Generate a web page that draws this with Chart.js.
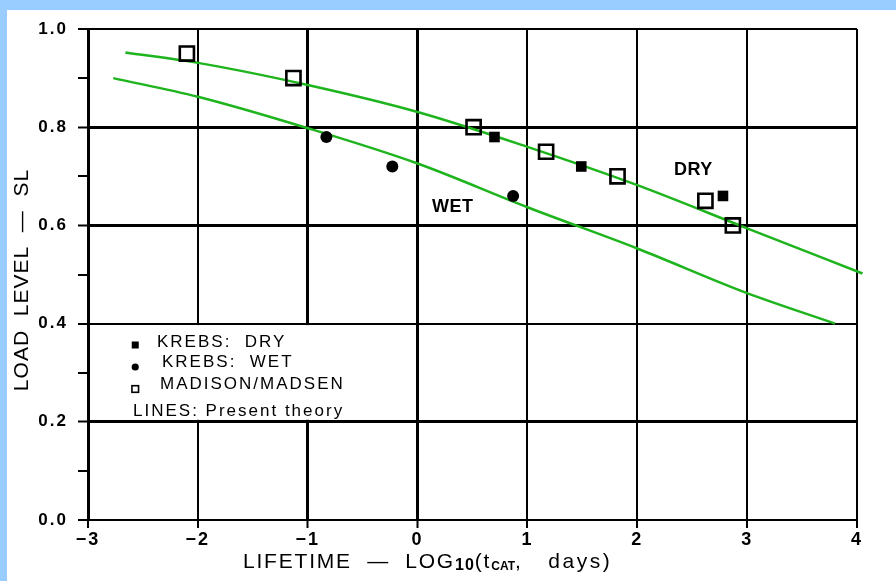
<!DOCTYPE html>
<html><head><meta charset="utf-8">
<script src="https://cdn.jsdelivr.net/npm/chart.js@4.4.1/dist/chart.umd.min.js"></script>
<style>html,body{margin:0;padding:0;background:#fff;overflow:hidden}</style>
</head><body>
<canvas id="c" width="896" height="581" style="display:block"></canvas>
<script>
const FONT = '"Liberation Sans", Arial, Helvetica, sans-serif';
const xTickValues = [-3, -2, -1, 0, 1, 2, 3, 4];
const xTickLabels = ['−3', '−2', '−1', '0', '1', '2', '3', '4'];
const yTickValues = [0, 0.1, 0.2, 0.3, 0.4, 0.5, 0.6, 0.7, 0.8, 0.9, 1.0];
const yTickLabels = ['0.0', '', '0.2', '', '0.4', '', '0.6', '', '0.8', '', '1.0'];

const madisonX = [-2.10, -1.13, 0.51, 1.17, 1.82, 2.62, 2.87];
const madisonY = [0.95, 0.90, 0.80, 0.75, 0.70, 0.65, 0.60];
const krebsDryX = [0.70, 1.49, 2.78];
const krebsDryY = [0.78, 0.72, 0.66];
const krebsWetX = [-0.83, -0.23, 0.87];
const krebsWetY = [0.78, 0.72, 0.66];
const dryLineX = [-2.66, -2, -1, 0, 1, 2, 3, 4.05];
const dryLineY = [0.952, 0.931, 0.886, 0.831, 0.760, 0.682, 0.594, 0.502];
const wetLineX = [-2.77, -2, -1, 0, 1, 2, 3, 3.80];
const wetLineY = [0.900, 0.862, 0.798, 0.726, 0.637, 0.553, 0.462, 0.400];

const legendItems = ['KREBS:  DRY', 'KREBS:  WET', 'MADISON/MADSEN', 'LINES: Present theory'];
const curveLabels = ['DRY', 'WET'];
const curveLabelX = [2.51, 0.32];
const curveLabelY = [0.713, 0.637];
const yTitle = 'LOAD  LEVEL  —  SL';
const xTitleParts = ['LIFETIME  —  LOG', '10', '(t', 'CAT', ',   days)'];

const pts = (xs, ys) => xs.map((x, i) => ({x, y: ys[i]}));
const GREEN = 'rgb(30,180,30)';

function drawRich(ctx, parts, x, y) {
  let cx = x;
  for (const p of parts) {
    ctx.font = `${p.weight || 'normal'} ${p.size}px ${FONT}`;
    ctx.letterSpacing = (p.ls || 0) + 'px';
    ctx.fillText(p.t, cx, y + (p.dy || 0));
    cx += ctx.measureText(p.t).width;
  }
}

const decor = {
  id: 'decor',
  beforeUpdate(chart) { chart.ctx.letterSpacing = '2px'; },
  beforeDraw(chart) {
    const ctx = chart.ctx;
    ctx.save();
    ctx.letterSpacing = '0px';
    ctx.fillStyle = '#fff';
    ctx.fillRect(0, 0, chart.width, chart.height);
    ctx.fillStyle = '#99ccff';
    ctx.fillRect(0, 0, chart.width, 10);
    ctx.fillRect(0, 0, 7, chart.height);
    ctx.restore();
    ctx.letterSpacing = '2px';
  },
  beforeDatasetsDraw(chart) {
    const ctx = chart.ctx, xs = chart.scales.x, ys = chart.scales.y;
    ctx.save();
    ctx.fillStyle = '#fff';
    const x0 = xs.getPixelForValue(-2.88), x1 = xs.getPixelForValue(-0.5);
    const yTop = ys.getPixelForValue(0.4) + 1.5, yBot = ys.getPixelForValue(0.2) - 2;
    ctx.fillRect(x0, yTop, x1 - x0, yBot - yTop);
    ctx.restore();
  },
  afterDatasetsDraw(chart) {
    const ctx = chart.ctx, xs = chart.scales.x, ys = chart.scales.y;
    ctx.save();
    ctx.fillStyle = '#000';
    ctx.strokeStyle = '#000';
    // curve labels
    ctx.font = `bold 18px ${FONT}`;
    ctx.letterSpacing = '0.5px';
    ctx.textAlign = 'center';
    ctx.textBaseline = 'middle';
    curveLabels.forEach((t, i) => ctx.fillText(t, xs.getPixelForValue(curveLabelX[i]), ys.getPixelForValue(curveLabelY[i])));
    // legend
    ctx.textAlign = 'left';
    ctx.textBaseline = 'alphabetic';
    const mx = xs.getPixelForValue(-2.57);
    const rows = [347, 367, 389, 416];
    const textX = [157, 162, 160, 133];
    ctx.fillRect(mx - 3.5, 345 - 3.5, 7, 7);
    ctx.beginPath(); ctx.arc(mx, 367, 3.6, 0, Math.PI * 2); ctx.fill();
    ctx.lineWidth = 1.6; ctx.strokeRect(mx - 3.3, 389 - 3.3, 6.6, 6.6);
    ctx.font = `17px ${FONT}`;
    ctx.letterSpacing = '2px';
    legendItems.forEach((t, i) => ctx.fillText(t, textX[i], rows[i]));
    // x title
    drawRich(ctx, [
      {t: xTitleParts[0], size: 21, ls: 1.8},
      {t: xTitleParts[1], size: 16, weight: 'bold', dy: 2, ls: 1},
      {t: xTitleParts[2], size: 21, ls: 1.8},
      {t: xTitleParts[3], size: 12, weight: 'bold', dy: 2, ls: 0},
      {t: xTitleParts[4], size: 21, ls: 2.5}
    ], 243, 568);
    // y title
    ctx.translate(28, 280);
    ctx.rotate(-Math.PI / 2);
    ctx.textAlign = 'center';
    ctx.font = `21px ${FONT}`;
    ctx.letterSpacing = '1px';
    ctx.fillText(yTitle, 0, 0);
    ctx.restore();
    ctx.letterSpacing = '2px';
  }
};

new Chart(document.getElementById('c'), {
  type: 'scatter',
  data: {
    datasets: [
      {label: 'KREBS: DRY', data: pts(krebsDryX, krebsDryY), pointStyle: 'rect', pointRadius: 7.5, pointHoverRadius: 7.5,
       backgroundColor: '#000', borderColor: '#000', borderWidth: 0},
      {label: 'KREBS: WET', data: pts(krebsWetX, krebsWetY), pointStyle: 'circle', pointRadius: 6, pointHoverRadius: 6,
       backgroundColor: '#000', borderColor: '#000', borderWidth: 0},
      {label: 'MADISON/MADSEN', data: pts(madisonX, madisonY), pointStyle: 'rect', pointRadius: 10, pointHoverRadius: 10,
       backgroundColor: 'rgba(0,0,0,0)', borderColor: '#000', borderWidth: 2.6},
      {label: 'Present theory (dry)', data: pts(dryLineX, dryLineY), showLine: true, pointRadius: 0, borderColor: GREEN,
       borderWidth: 2.5, cubicInterpolationMode: 'monotone', clip: 10, fill: false},
      {label: 'Present theory (wet)', data: pts(wetLineX, wetLineY), showLine: true, pointRadius: 0, borderColor: GREEN,
       borderWidth: 2.5, cubicInterpolationMode: 'monotone', clip: 10, fill: false}
    ]
  },
  options: {
    responsive: false,
    animation: false,
    devicePixelRatio: 1,
    layout: {padding: {top: 29, right: 39, left: 0, bottom: 0}},
    plugins: {legend: {display: false}, tooltip: {enabled: false}, title: {display: false}},
    scales: {
      x: {
        type: 'linear', min: -3, max: 4,
        afterFit(s) { s.height = 61; },
        afterBuildTicks(s) { s.ticks = xTickValues.map(v => ({value: v})); },
        ticks: {autoSkip: false, maxRotation: 0, padding: 1, color: '#000',
          font: {family: FONT, size: 18, weight: 'bold'},
          callback: (v) => xTickLabels[xTickValues.indexOf(v)]},
        grid: {color: '#000', lineWidth: c => (c.tick && (c.tick.value === -1 || c.tick.value === 0)) ? 3 : 2,
          tickLength: 8, tickColor: '#000', tickWidth: 2, drawTicks: true},
        border: {display: true, color: '#000', width: 2},
        title: {display: false}
      },
      y: {
        type: 'linear', min: 0, max: 1,
        afterFit(s) { s.width = 88; },
        afterBuildTicks(s) { s.ticks = yTickValues.map(v => ({value: v})); },
        ticks: {autoSkip: false, padding: 10, color: '#000',
          font: {family: FONT, size: 17, weight: 'bold'},
          callback: (v, i) => yTickLabels[i]},
        grid: {
          color: c => (c.index % 2 === 1) ? 'rgba(0,0,0,0)' : '#000',
          lineWidth: c => ([2, 6, 8].includes(c.index)) ? 3 : 2,
          tickLength: 10, tickColor: '#000', tickWidth: 2, drawTicks: true},
        border: {display: true, color: '#000', width: 3},
        title: {display: false}
      }
    }
  },
  plugins: [decor]
});
</script>
</body></html>
